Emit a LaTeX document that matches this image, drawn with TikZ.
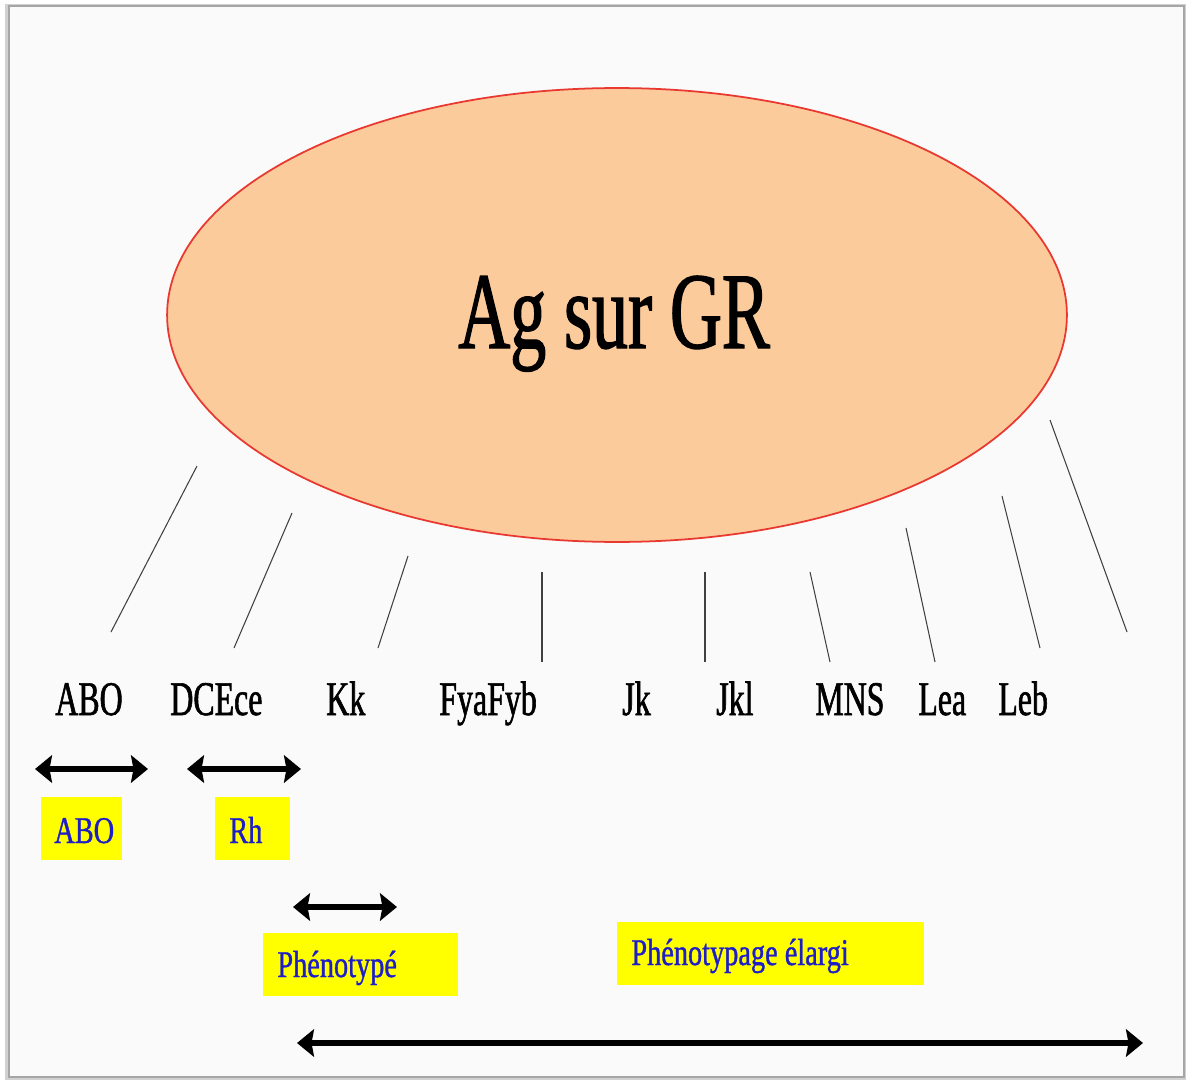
\documentclass[tikz,border=0pt]{standalone}
\usepackage{fontspec}
\usetikzlibrary{shapes.geometric,arrows.meta}
\newfontfamily\condblack[FakeStretch=0.66,FakeBold=1.2]{Liberation Serif}
\newfontfamily\condblue[FakeStretch=0.75,FakeBold=0.9]{Liberation Serif}
\definecolor{peach}{HTML}{FCCB9C}
\definecolor{ellred}{HTML}{E8382F}
\definecolor{lblue}{HTML}{1E1EC8}
\definecolor{ylw}{HTML}{FFFF00}
\definecolor{bgin}{HTML}{FAFAFA}
\tikzset{
  lbl/.style={anchor=base west,inner sep=0pt,font=\condblack\fontsize{27.5}{30}\selectfont},
  bluetxt/.style={anchor=base west,inner sep=0pt,text=lblue,font=\condblue\fontsize{21.5}{24}\selectfont},
  ybox/.style={rectangle,fill=ylw,inner sep=0pt,minimum height=1.26cm},
  spoke/.style={draw=black!75,line width=0.6pt},
  dblarrow/.style={line width=0.11cm,{Stealth[length=0.34cm,width=0.55cm,inset=0.05cm]}-{Stealth[length=0.34cm,width=0.55cm,inset=0.05cm]}}
}
\begin{document}
\begin{tikzpicture}[x=0.02cm,y=-0.02cm]
\useasboundingbox (0,0) rectangle (1192,1081);
\fill[white] (0,0) rectangle (1192,1081);
% frame with soft shadow
\fill[black!18] (5,4) rectangle (1186,1080);
\fill[bgin,draw=black!35,line width=0.6pt] (9,6) rectangle (1184,1077);
% central ellipse
\node[ellipse,fill=peach,draw=ellred,line width=1pt,minimum width=18cm,minimum height=9.08cm,inner sep=0pt] (ag) at (617,315) {};
\node[anchor=base west,inner sep=0pt,font=\condblack\fontsize{62}{70}\selectfont] (agt) at (458,348) {Ag sur GR};
% labels
\node[lbl] (abo) at (55,715) {ABO};
\node[lbl] (dce) at (170,715) {DCEce};
\node[lbl] (kk) at (326,715) {Kk};
\node[lbl] (fy) at (439,715) {FyaFyb};
\node[lbl] (jk) at (622,715) {Jk};
\node[lbl] (jkl) at (716,715) {Jkl};
\node[lbl] (mns) at (815,715) {MNS};
\node[lbl] (lea) at (918,715) {Lea};
\node[lbl] (leb) at (998,715) {Leb};
% spokes
\coordinate (s1a) at (197,466); \coordinate (s1b) at (111,632);
\coordinate (s2a) at (292,513); \coordinate (s2b) at (234,648);
\coordinate (s3a) at (408,556); \coordinate (s3b) at (378,648);
\coordinate (s4a) at (542,572); \coordinate (s4b) at (542,662);
\coordinate (s5a) at (705,572); \coordinate (s5b) at (705,662);
\coordinate (s6a) at (810,572); \coordinate (s6b) at (830,662);
\coordinate (s7a) at (906,528); \coordinate (s7b) at (935,662);
\coordinate (s8a) at (1002,496); \coordinate (s8b) at (1040,648);
\coordinate (s9a) at (1050,420); \coordinate (s9b) at (1127,632);
\foreach \i in {1,...,9} {\draw[spoke] (s\i a) -- (s\i b);}
% arrows
\coordinate (a1l) at (35,769); \coordinate (a1r) at (148,769);
\coordinate (a2l) at (187,769); \coordinate (a2r) at (301,769);
\coordinate (a3l) at (293,907); \coordinate (a3r) at (397,907);
\coordinate (a4l) at (297,1043); \coordinate (a4r) at (1143,1043);
\draw[dblarrow] (a1l) -- (a1r);
\draw[dblarrow] (a2l) -- (a2r);
\draw[dblarrow] (a3l) -- (a3r);
\draw[dblarrow] (a4l) -- (a4r);
% yellow boxes
\node[ybox,minimum width=1.62cm] (bA) at (81.5,828.5) {};
\node[ybox,minimum width=1.5cm] (bR) at (252.5,828.5) {};
\node[ybox,minimum width=3.9cm] (bP) at (360.5,964.5) {};
\node[ybox,minimum width=6.14cm] (bE) at (770.5,953.5) {};
\node[bluetxt] (tA) at (54,843) {ABO};
\node[bluetxt] (tR) at (229,843) {Rh};
\node[bluetxt] (tP) at (277,977) {Phénotypé};
\node[bluetxt] (tE) at (631,965) {Phénotypage élargi};
\end{tikzpicture}
\end{document}
